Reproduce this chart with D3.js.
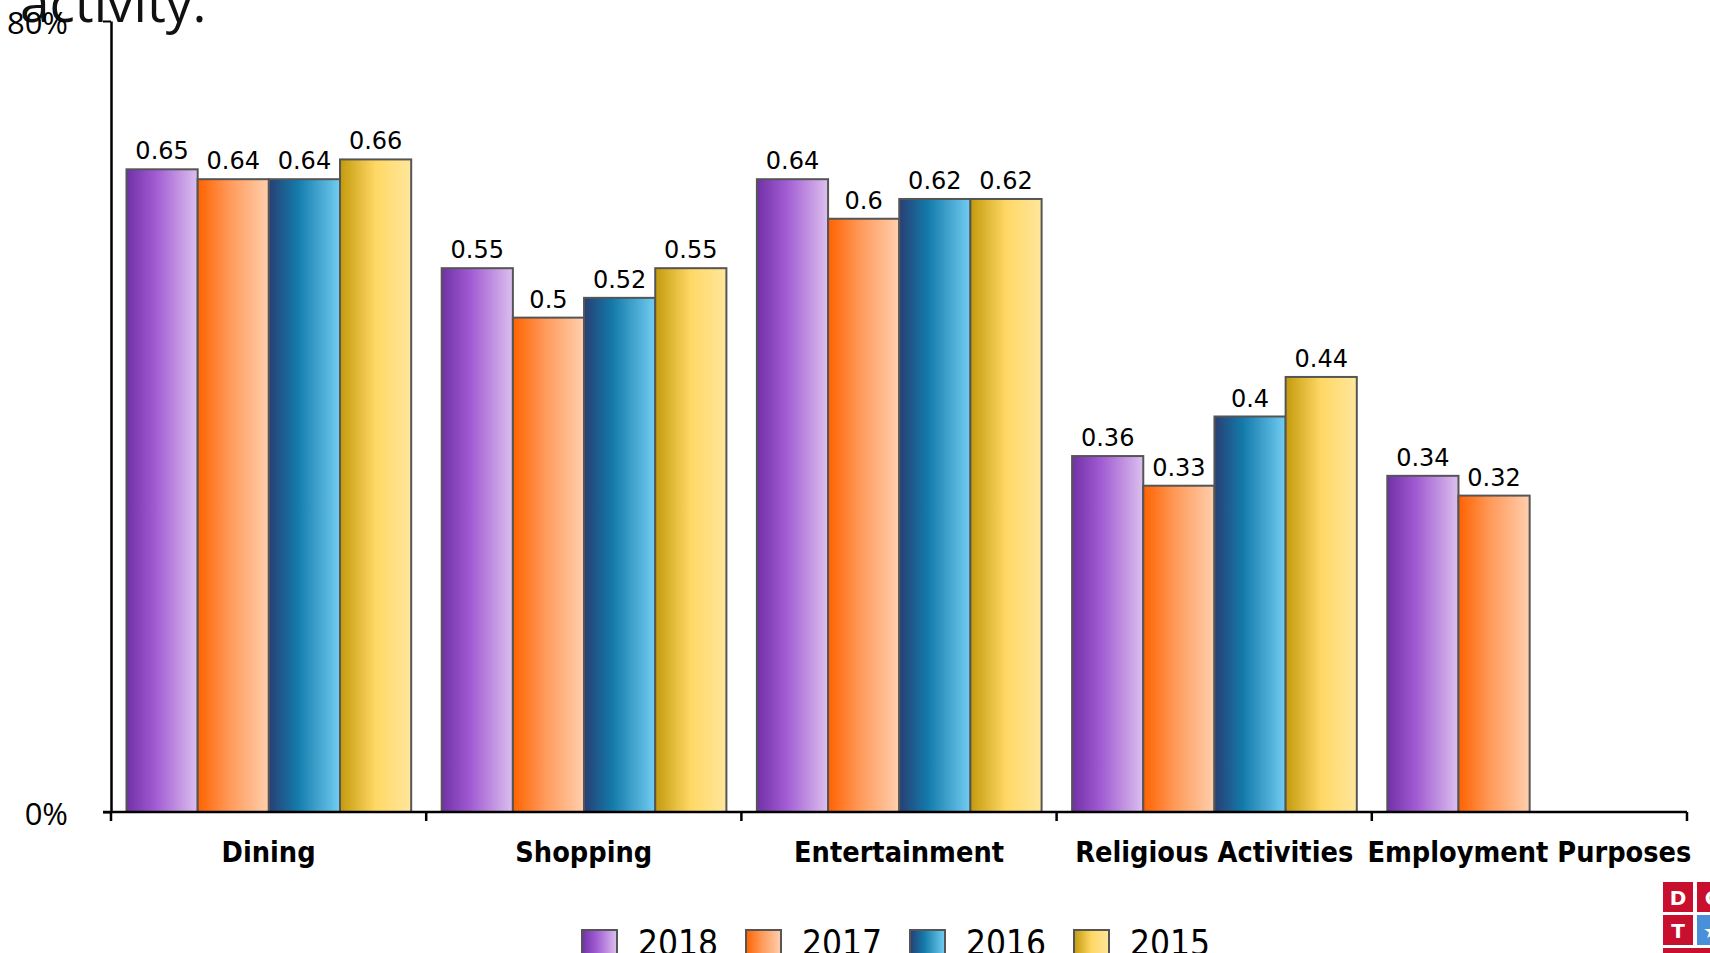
<!DOCTYPE html>
<html>
<head>
<meta charset="utf-8">
<script src="https://cdn.jsdelivr.net/npm/d3@7"></script>
<style>
  body { margin: 0; background: #fff; overflow: hidden; }
  svg { display: block; }
</style>
</head>
<body>
<div id="chart"></div>
<script>
// chart data
const categories = ["Dining", "Shopping", "Entertainment", "Religious Activities", "Employment Purposes"];
const years = ["2018", "2017", "2016", "2015"];
const values2018 = [0.65, 0.55, 0.64, 0.36, 0.34];
const values2017 = [0.64, 0.50, 0.60, 0.33, 0.32];
const values2016 = [0.64, 0.52, 0.62, 0.40, null];
const values2015 = [0.66, 0.55, 0.62, 0.44, null];
const yTicks = [0, 0.8];
const titleText = "activity.";

const seriesValues = [values2018, values2017, values2016, values2015];

// gradient stops per year (left -> right)
const gradients = {
  "2018": [["0%", "#7131a6"], ["40%", "#a05ad2"], ["100%", "#dcc0ee"]],
  "2017": [["0%", "#ff6200"], ["45%", "#ff9a5a"], ["100%", "#ffcfae"]],
  "2016": [["0%", "#283f74"], ["40%", "#137aaa"], ["100%", "#72cdf2"]],
  "2015": [["0%", "#c49a0c"], ["50%", "#ffd865"], ["100%", "#ffe69c"]]
};

const width = 1710, height = 953;

const svg = d3.select("#chart").append("svg")
  .attr("width", width)
  .attr("height", height);

const defs = svg.append("defs");
years.forEach(yr => {
  const g = defs.append("linearGradient")
    .attr("id", "grad" + yr)
    .attr("x1", "0%").attr("x2", "100%")
    .attr("y1", "0%").attr("y2", "0%");
  gradients[yr].forEach(s => g.append("stop").attr("offset", s[0]).attr("stop-color", s[1]));
});

// scales
const x0 = d3.scaleBand().domain(categories).range([111, 1687]);
const x1 = d3.scaleBand().domain(years).range([15.5, x0.bandwidth() - 15]);
const y = d3.scaleLinear().domain([0, 0.8]).range([812, 21]);

// title (cut off at top like the source)
svg.append("text")
  .attr("x", 20)
  .attr("y", 22)
  .attr("font-family", "Open Sans")
  .attr("font-size", 53)
  .attr("fill", "#111")
  .text(titleText);

// bars
const rows = categories.map((c, i) => ({
  cat: c,
  vals: years.map((yr, j) => ({ yr: yr, v: seriesValues[j][i] })).filter(d => d.v !== null)
}));

const groups = svg.append("g").selectAll("g")
  .data(rows)
  .join("g")
  .attr("transform", d => `translate(${x0(d.cat)},0)`);

groups.selectAll("rect")
  .data(d => d.vals)
  .join("rect")
  .attr("x", d => x1(d.yr))
  .attr("y", d => y(d.v))
  .attr("width", x1.bandwidth())
  .attr("height", d => y(0) - y(d.v))
  .attr("fill", d => `url(#grad${d.yr})`)
  .attr("stroke", "#555")
  .attr("stroke-width", 2);

groups.selectAll("text")
  .data(d => d.vals)
  .join("text")
  .attr("x", d => x1(d.yr) + x1.bandwidth() / 2)
  .attr("y", d => y(d.v) - 10)
  .attr("text-anchor", "middle")
  .attr("font-family", "DejaVu Sans")
  .attr("font-size", 24)
  .attr("fill", "#000")
  .text(d => d.v);

// y axis
svg.append("g")
  .attr("transform", "translate(111,0)")
  .call(d3.axisLeft(y).tickValues(yTicks).tickFormat(d3.format(".0%")).tickSize(8).tickSizeOuter(0).tickPadding(35))
  .call(g => g.select(".domain").attr("stroke", "#000").attr("stroke-width", 2.5))
  .call(g => g.selectAll(".tick line").attr("stroke", "#000").attr("stroke-width", 2))
  .call(g => g.selectAll(".tick text")
    .attr("font-family", "Open Sans")
    .attr("font-size", 31)
    .attr("fill", "#000")
    .attr("dy", "0.4em"));

// x axis: baseline + boundary ticks
const xAxis = svg.append("g");
xAxis.append("line")
  .attr("x1", x0.range()[0] - 8).attr("x2", x0.range()[1])
  .attr("y1", y(0)).attr("y2", y(0))
  .attr("stroke", "#000").attr("stroke-width", 2.5);

const bounds = categories.map(c => x0(c)).concat([x0.range()[1]]);
xAxis.selectAll(".btick")
  .data(bounds)
  .join("line")
  .attr("class", "btick")
  .attr("x1", d => d).attr("x2", d => d)
  .attr("y1", y(0)).attr("y2", y(0) + 9)
  .attr("stroke", "#000").attr("stroke-width", 2.5);

xAxis.selectAll(".clabel")
  .data(categories)
  .join("text")
  .attr("class", "clabel")
  .attr("x", d => x0(d) + x0.bandwidth() / 2)
  .attr("y", 862)
  .attr("text-anchor", "middle")
  .attr("font-family", "DejaVu Sans Condensed, DejaVu Sans")
  .attr("font-weight", "bold")
  .attr("font-size", 28.6)
  .attr("fill", "#000")
  .text(d => d);

// legend
const legend = svg.append("g").selectAll("g")
  .data(years)
  .join("g")
  .attr("transform", (d, i) => `translate(${582 + i * 164},930)`);

legend.append("rect")
  .attr("width", 35)
  .attr("height", 34)
  .attr("fill", d => `url(#grad${d})`)
  .attr("stroke", "#555")
  .attr("stroke-width", 2);

legend.append("text")
  .attr("x", 56)
  .attr("y", 25)
  .attr("font-family", "DejaVu Sans Condensed, DejaVu Sans")
  .attr("font-size", 35)
  .attr("fill", "#000")
  .text(d => d);

// logo corner
const logo = svg.append("g").attr("transform", "translate(1663,882)");
const logoCells = [
  { c: 0, r: 0, fill: "#c8102e", t: "D" },
  { c: 1, r: 0, fill: "#c8102e", t: "C" },
  { c: 0, r: 1, fill: "#c8102e", t: "T" },
  { c: 1, r: 1, fill: "#4a90d9", t: "★" }
];
logo.selectAll("rect")
  .data(logoCells)
  .join("rect")
  .attr("x", d => d.c * 34)
  .attr("y", d => d.r * 33)
  .attr("width", 30)
  .attr("height", 30)
  .attr("fill", d => d.fill);
logo.selectAll("text")
  .data(logoCells)
  .join("text")
  .attr("x", d => d.c * 34 + 15)
  .attr("y", d => d.r * 33 + 23)
  .attr("text-anchor", "middle")
  .attr("font-family", "DejaVu Sans")
  .attr("font-weight", "bold")
  .attr("font-size", 20)
  .attr("fill", "#fff")
  .text(d => d.t);
logo.append("rect")
  .attr("x", 0).attr("y", 66)
  .attr("width", 60).attr("height", 8)
  .attr("fill", "#c8102e");
</script>
</body>
</html>
